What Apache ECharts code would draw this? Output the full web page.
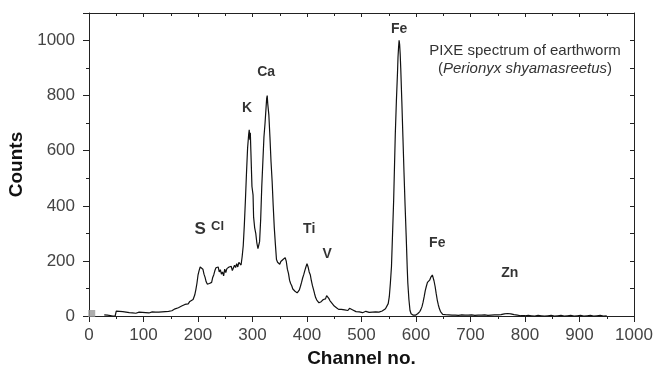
<!DOCTYPE html>
<html>
<head>
<meta charset="utf-8">
<script src="https://cdn.jsdelivr.net/npm/echarts@6/dist/echarts.min.js"></script>
<style>
html, body { margin: 0; padding: 0; background: #fff; }
#chart { width: 657px; height: 370px; }
</style>
</head>
<body>
<div id="chart"></div>
<script>
// PIXE spectrum, channel no. vs counts
var channels = [
    28, 31, 34, 37, 44, 48, 50, 53, 56, 59, 62, 65, 68, 71, 74, 77, 80, 83, 86, 89,
    92, 95, 98, 101, 104, 107, 110, 113, 116, 119, 122, 125, 128, 131, 134, 137, 140, 143, 146, 149,
    152, 155, 158, 161, 164, 167, 170, 173, 176, 179, 182, 185, 188, 191, 194, 196, 198, 200, 202, 204,
    206, 207, 209, 211, 213, 215, 217, 219, 221, 223, 225, 227, 229, 231, 233, 235, 237, 239, 241, 243,
    245, 247, 249, 251, 253, 255, 257, 259, 261, 263, 265, 267, 269, 271, 273, 275, 277, 279, 281, 283,
    285, 287, 289, 291, 293, 294, 295, 296, 297, 299, 301, 302, 304, 306, 308, 310, 311, 313, 315, 317,
    319, 321, 323, 325, 326, 327, 328, 330, 332, 334, 336, 338, 340, 342, 344, 346, 348, 350, 352, 354,
    356, 358, 360, 362, 364, 366, 368, 370, 372, 374, 376, 378, 380, 382, 384, 386, 388, 390, 392, 394,
    396, 398, 400, 402, 404, 406, 408, 410, 412, 414, 416, 418, 420, 422, 424, 426, 428, 430, 432, 434,
    436, 438, 440, 442, 444, 446, 448, 450, 452, 454, 456, 458, 460, 463, 466, 469, 472, 475, 478, 481,
    484, 487, 490, 493, 496, 499, 502, 505, 508, 511, 514, 517, 520, 523, 526, 529, 532, 535, 538, 541,
    544, 547, 549, 551, 553, 555, 557, 559, 560, 562, 564, 566, 567, 568, 569, 570, 571, 572, 574, 576,
    578, 580, 582, 584, 585, 587, 589, 591, 593, 595, 597, 599, 601, 603, 605, 607, 609, 611, 613, 615,
    617, 619, 621, 623, 625, 627, 629, 630, 631, 633, 635, 637, 639, 641, 643, 645, 647, 649, 651, 654,
    657, 660, 663, 666, 669, 672, 675, 678, 681, 684, 687, 690, 693, 696, 699, 702, 705, 708, 711, 714,
    717, 720, 723, 726, 729, 732, 735, 738, 741, 744, 747, 750, 753, 756, 759, 762, 765, 768, 771, 774,
    777, 780, 783, 786, 789, 792, 795, 800, 806, 812, 818, 824, 830, 836, 842, 848, 854, 860, 866, 872,
    878, 884, 890, 896, 902, 908, 914, 920, 926, 932, 938, 944, 950
];
var counts = [
    4, 7, 3, 0, 0, 0, 18, 20, 17, 19, 16, 18, 14, 16, 12, 15, 11, 13, 10, 12,
    14, 11, 13, 15, 12, 14, 11, 13, 15, 12, 14, 16, 14, 17, 15, 18, 16, 19, 17, 21,
    19, 22, 26, 24, 30, 27, 36, 33, 42, 46, 44, 53, 50, 60, 76, 95, 118, 148, 165, 178,
    184, 182, 170, 152, 140, 124, 116, 112, 118, 114, 122, 140, 150, 165, 175, 170, 178, 160, 168, 152,
    160, 146, 170, 158, 172, 166, 178, 172, 180, 165, 170, 184, 176, 190, 178, 195, 200, 185, 215, 255,
    330, 420, 520, 610, 660, 676, 640, 665, 600, 470, 440, 360, 320, 300, 265, 245, 238, 270, 350, 470,
    560, 650, 700, 760, 790, 800, 770, 730, 650, 560, 490, 400, 320, 260, 205, 195, 200, 188, 198, 192,
    205, 200, 212, 198, 170, 155, 130, 118, 110, 98, 96, 90, 88, 84, 82, 95, 108, 122, 138, 150,
    165, 178, 190, 178, 160, 150, 128, 110, 96, 80, 66, 58, 52, 48, 46, 52, 56, 60, 66, 62,
    74, 70, 64, 56, 50, 46, 40, 36, 34, 30, 26, 24, 22, 24, 20, 22, 18, 20, 28, 24,
    22, 18, 16, 20, 15, 14, 12, 14, 17, 15, 13, 16, 14, 18, 15, 17, 14, 16, 18, 22,
    26, 32, 45, 70, 120, 180, 300, 420, 500, 660, 780, 880, 940, 975, 1001, 985, 950, 900, 780, 650,
    520, 400, 290, 170, 120, 60, 20, 8, 4, 3, 5, 3, 6, 8, 10, 16, 24, 34, 50, 70,
    92, 108, 122, 125, 130, 140, 146, 149, 145, 128, 108, 82, 58, 40, 26, 16, 10, 6, 4, 5,
    3, 4, 2, 3, 5, 3, 4, 2, 3, 4, 2, 3, 5, 3, 2, 4, 3, 2, 4, 3,
    5, 3, 2, 4, 3, 2, 4, 3, 2, 4, 3, 4, 3, 5, 6, 8, 10, 9, 11, 8,
    6, 5, 4, 3, 2, 1, 2, 1, 2, 1, 0, 2, 1, 0, 1, 2, 0, 1, 2, 0,
    1, 2, 0, 1, 2, 0, 1, 2, 0, 1, 2, 0, 1
];

// element labels, placed in channel / counts units
var peakNames = ['S', 'Cl', 'K', 'Ca', 'Ti', 'V', 'Fe', 'Fe', 'Zn'];
var peakChannels = [204, 236, 290, 325, 404, 437, 569, 639, 772];
var peakCounts = [313, 326, 756, 887, 316, 225, 1040, 265, 156];

// small grey marker at the origin
var markerPoint = [[5, 9]];

var spectrum = channels.map(function (c, i) { return [c, counts[i]]; });
var peaks = peakNames.map(function (n, i) { return { name: n, value: [peakChannels[i], peakCounts[i]] }; });

var font = 'Liberation Sans, Arial, sans-serif';
var axisColor = '#222';

var chart = echarts.init(document.getElementById('chart'), null, { renderer: 'canvas' });

chart.setOption({
    animation: false,
    backgroundColor: '#fff',
    title: {
        text: 'PIXE spectrum of earthworm\n{p|(}{i|Perionyx shyamasreetus}{p|)}',
        left: 520,
        top: 37,
        textAlign: 'center',
        textStyle: {
            fontFamily: font,
            fontSize: 15,
            fontWeight: 'normal',
            color: '#333',
            lineHeight: 18,
            rich: {
                p: { fontFamily: font, fontSize: 15, color: '#333' },
                i: { fontFamily: font, fontSize: 15, fontStyle: 'italic', color: '#333' }
            }
        }
    },
    grid: { left: 89, right: 23, top: 13, bottom: 54, containLabel: false, outerBoundsMode: 'none' },
    xAxis: [
        {
            type: 'value',
            position: 'bottom',
            min: 0,
            max: 1000,
            interval: 100,
            name: 'Channel no.',
            nameLocation: 'middle',
            nameGap: 31,
            nameTextStyle: { fontFamily: font, fontSize: 19, fontWeight: 'bold', color: '#111' },
            axisLine: { show: true, onZero: false, lineStyle: { color: axisColor, width: 1 } },
            axisTick: { show: true, inside: false, length: 6, lineStyle: { color: axisColor } },
            minorTick: { show: true, splitNumber: 2, length: 3, lineStyle: { color: axisColor } },
            axisLabel: {
                fontFamily: font, fontSize: 17, color: '#444', margin: 11,
                formatter: function (v) { return String(v); }
            },
            splitLine: { show: false }
        },
        {
            type: 'value',
            position: 'top',
            min: 0,
            max: 1000,
            interval: 100,
            axisLine: { show: true, onZero: false, lineStyle: { color: axisColor, width: 1 } },
            axisTick: { show: true, inside: true, length: 4, lineStyle: { color: axisColor } },
            minorTick: { show: true, splitNumber: 2, length: 3, lineStyle: { color: axisColor } },
            axisLabel: { show: false },
            splitLine: { show: false }
        }
    ],
    yAxis: [
        {
            type: 'value',
            position: 'left',
            min: 0,
            max: 1100,
            interval: 200,
            name: 'Counts',
            nameLocation: 'middle',
            nameGap: 49,
            nameTextStyle: { fontFamily: font, fontSize: 19, fontWeight: 'bold', color: '#111' },
            axisLine: { show: true, onZero: false, lineStyle: { color: axisColor, width: 1 } },
            axisTick: { show: true, inside: false, length: 6, lineStyle: { color: axisColor } },
            minorTick: { show: true, splitNumber: 2, length: 3, lineStyle: { color: axisColor } },
            axisLabel: {
                fontFamily: font, fontSize: 17, color: '#444', margin: 14, showMaxLabel: false,
                formatter: function (v) { return String(v); }
            },
            splitLine: { show: false }
        },
        {
            type: 'value',
            position: 'right',
            min: 0,
            max: 1100,
            interval: 100,
            axisLine: { show: true, onZero: false, lineStyle: { color: axisColor, width: 1 } },
            axisTick: { show: true, inside: true, length: 4, lineStyle: { color: axisColor } },
            axisLabel: { show: false },
            splitLine: { show: false }
        }
    ],
    series: [
        {
            type: 'line',
            data: spectrum,
            showSymbol: false,
            lineStyle: { color: '#111', width: 1.2 },
            z: 3
        },
        {
            type: 'scatter',
            data: markerPoint,
            symbol: 'rect',
            symbolSize: 7,
            itemStyle: { color: '#9a9a9a' },
            z: 4
        },
        {
            type: 'scatter',
            data: peaks,
            symbolSize: 0,
            label: {
                show: true,
                position: 'inside',
                fontFamily: font,
                fontWeight: 'bold',
                fontSize: 14,
                color: '#000',
                formatter: function (p) {
                    if (p.name === 'S') return '{big|S}';
                    if (p.name === 'Cl') return '{small|Cl}';
                    return '{n|' + p.name + '}';
                },
                rich: {
                    n: { fontFamily: font, fontWeight: 'bold', fontSize: 14, color: '#000' },
                    big: { fontFamily: font, fontWeight: 'bold', fontSize: 17, color: '#000' },
                    small: { fontFamily: font, fontWeight: 'bold', fontSize: 13, color: '#000' }
                }
            },
            z: 5
        }
    ]
});
</script>
</body>
</html>
